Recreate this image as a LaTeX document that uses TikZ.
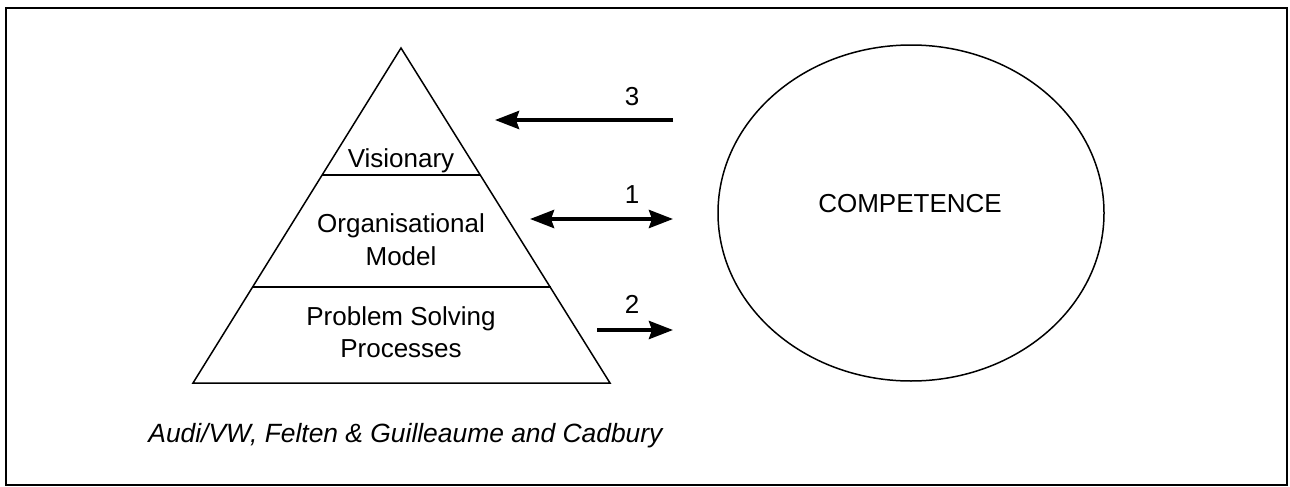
\documentclass[tikz,border=0pt]{standalone}
\usepackage{fontspec}
\setmainfont{Liberation Sans}
\usetikzlibrary{arrows.meta}
\tikzset{
  thin line/.style={line width=0.75pt},
  fat arrow/.style={line width=2pt,-{Stealth[length=12pt,width=9pt,inset=1.5pt]}},
  fat darrow/.style={line width=2pt,{Stealth[length=12pt,width=9pt,inset=1.5pt]}-{Stealth[length=12pt,width=9pt,inset=1.5pt]}},
  txt/.style={font=\fontsize{13}{16}\selectfont, inner sep=0pt, align=center},
}
\begin{document}
\begin{tikzpicture}[x=0.5pt,y=-0.5pt]
\useasboundingbox (0,0) rectangle (1290,487);
% frame
\draw[line width=1pt] (6,8) rectangle (1287,485);
% pyramid
\coordinate (apex) at (401,48);
\coordinate (bl) at (193,383);
\coordinate (br) at (610,383);
\draw[thin line] (apex) -- (bl) -- (br) -- cycle;
\coordinate (v1) at (322,175);
\coordinate (v2) at (480,175);
\draw[thin line] (v1) -- (v2);
\coordinate (m1) at (253,287);
\coordinate (m2) at (551,287);
\draw[thin line] (m1) -- (m2);
% layer texts
\node[txt,anchor=base] (vis) at (401,167) {Visionary};
\node[txt,anchor=base] (org) at (401,232) {Organisational};
\node[txt,anchor=base] (mod) at (401,265) {Model};
\node[txt,anchor=base] (prob) at (401,325) {Problem Solving};
\node[txt,anchor=base] (proc) at (401,357) {Processes};
% caption
\node[txt,anchor=base west,font=\fontsize{13.2}{16}\selectfont\itshape] (cap) at (148,442) {Audi/VW, Felten \& Guilleaume and Cadbury};
% competence
\coordinate (cc) at (911,213);
\draw[thin line] (cc) ellipse [x radius=193, y radius=168];
\node[txt,anchor=base] (comp) at (910,212) {COMPETENCE};
% arrows
\coordinate (a3s) at (673,120);
\coordinate (a3e) at (495,120);
\draw[fat arrow] (a3s) -- (a3e);
\node[txt,anchor=base] (l3) at (632,105) {3};
\coordinate (a1s) at (530,219);
\coordinate (a1e) at (673,219);
\draw[fat darrow] (a1s) -- (a1e);
\node[txt,anchor=base] (l1) at (632,203) {1};
\coordinate (a2s) at (597,330);
\coordinate (a2e) at (673,330);
\draw[fat arrow] (a2s) -- (a2e);
\node[txt,anchor=base] (l2) at (632,313) {2};
\end{tikzpicture}
\end{document}
